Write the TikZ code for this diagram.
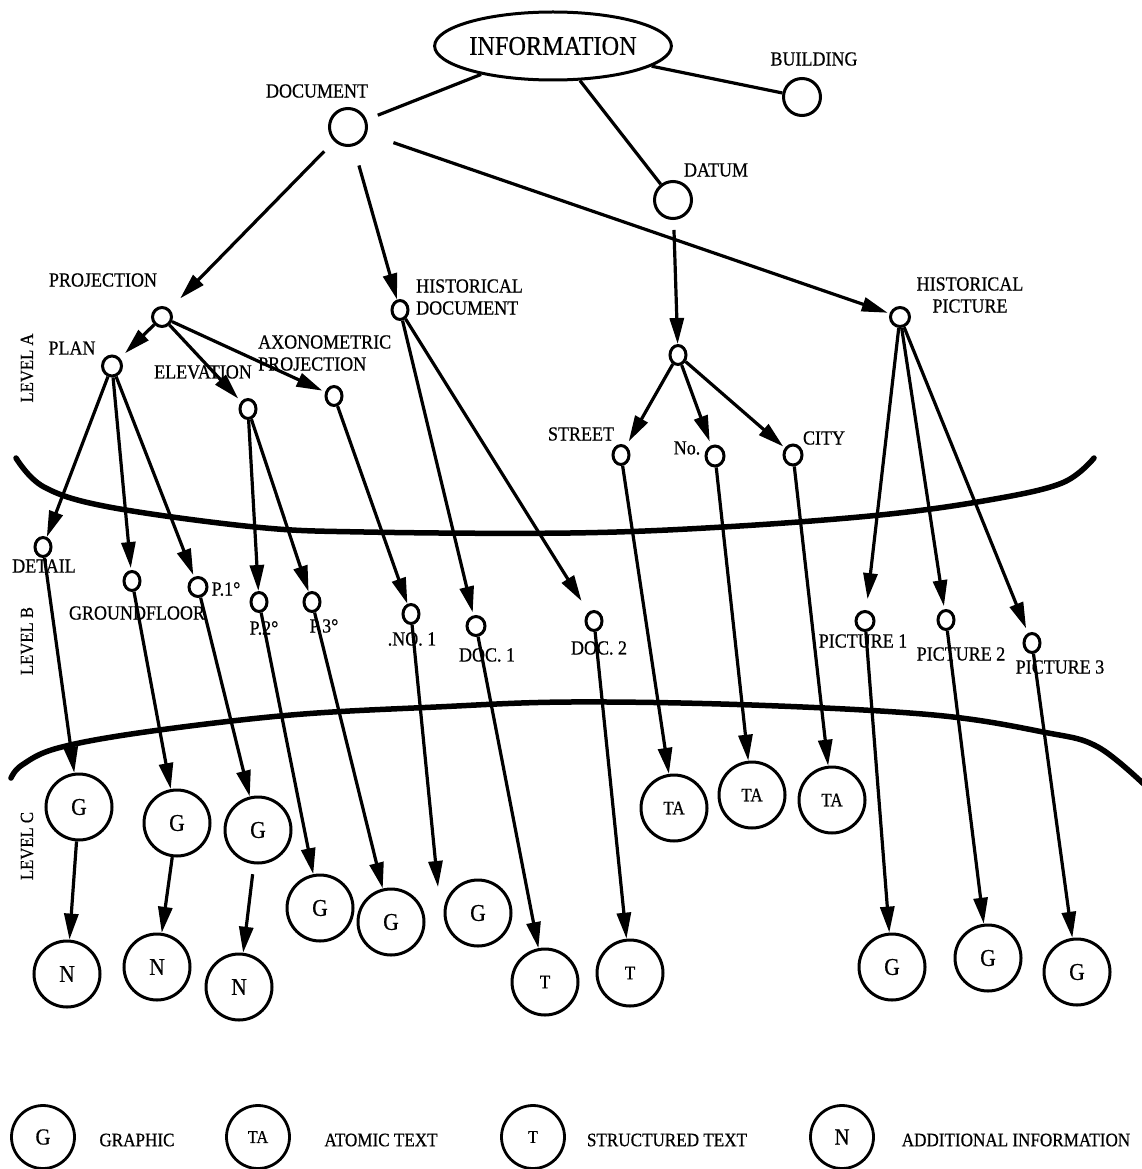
\documentclass[tikz,border=0pt]{standalone}
\usepackage{fontspec}
\setmainfont{Liberation Serif}[FakeStretch=0.9,FakeBold=0.6]
\usetikzlibrary{arrows.meta,shapes.geometric}
\begin{document}
\begin{tikzpicture}[x=1pt,y=-1pt,
  every node/.style={inner sep=0pt},
  lab/.style={font=\fontsize{20}{22}\selectfont},
  sm/.style={draw,ellipse,line width=3pt,minimum width=16pt,minimum height=19pt},
  mid/.style={draw,circle,line width=3pt,minimum size=37pt},
  big/.style={draw,circle,line width=3pt,minimum size=66pt,font=\fontsize{24}{26}\selectfont},
  bigs/.style={big,font=\fontsize{19}{21}\selectfont},
  leg/.style={draw,circle,line width=2.8pt,minimum size=63pt,font=\fontsize{23}{25}\selectfont},
  legs/.style={leg,font=\fontsize{18}{20}\selectfont},
  legtext/.style={font=\fontsize{19}{21}\selectfont},
  ln/.style={line width=3.2pt},
  arr/.style={line width=3.2pt,-{Triangle[length=26pt,width=14pt]}},
  lvl/.style={line width=5.5pt,line cap=round},
  lvlab/.style={rotate=90,font=\fontsize{18.5}{20}\selectfont}
]
\useasboundingbox (0,0) rectangle (1141,1169);

% level boundaries
\draw[lvl] plot[smooth,tension=0.6] coordinates {(16,458) (44,487) (109,507) (255,527) (364,532) (570,533) (723,527) (880,515) (989,500) (1062,483) (1094,458)};
\draw[lvl] plot[smooth,tension=0.6] coordinates {(11,778) (22,765) (58,748) (145,732) (291,715) (436,707) (570,702) (752,705) (934,715) (1043,732) (1098,747) (1150,790)};

\node[lvlab] (lva) at (27,368) {LEVEL A};
\node[lvlab] (lvb) at (27,641) {LEVEL B};
\node[lvlab] (lvc) at (27,846) {LEVEL C};

% top
\node[draw,ellipse,line width=3pt,minimum width=226pt,minimum height=68pt,font=\fontsize{27}{29}\selectfont] (info) at (553,46) {INFORMATION};
\node[mid] (build) at (802,97) {};
\node[lab] (buildl) at (814,59) {BUILDING};
\node[mid] (doc) at (348,127) {};
\node[lab] (docl) at (317,91) {DOCUMENT};
\node[mid] (datum) at (673,200) {};
\node[lab] (datuml) at (716,170) {DATUM};

% level A
\node[sm,minimum width=19pt,minimum height=19pt] (proj) at (162,317) {};
\node[lab] (projl) at (103,280) {PROJECTION};
\node[sm] (hd) at (400,310) {};
\node[lab,anchor=west,align=left] (hdl) at (416,297) {HISTORICAL\\DOCUMENT};
\node[sm,minimum width=19pt,minimum height=19pt] (hp) at (900,317) {};
\node[lab,align=center] (hpl) at (970,295) {HISTORICAL\\PICTURE};
\node[sm] (dch) at (678,355) {};
\node[sm,minimum width=19pt,minimum height=20pt] (plan) at (112,366) {};
\node[lab] (planl) at (72,348) {PLAN};
\node[sm] (elev) at (248,409) {};
\node[lab] (elevl) at (203,372) {ELEVATION};
\node[sm] (axo) at (334,396) {};
\node[lab,anchor=west,align=left] (axol) at (258,353) {AXONOMETRIC\\PROJECTION};
\node[sm] (street) at (621,455) {};
\node[lab] (streetl) at (581,434) {STREET};
\node[sm,minimum width=18pt,minimum height=20pt] (num) at (715,456) {};
\node[lab] (numl) at (687,448) {No.};
\node[sm,minimum width=18pt,minimum height=20pt] (city) at (793,455) {};
\node[lab] (cityl) at (824,438) {CITY};

% level B
\node[sm] (detail) at (43,547) {};
\node[lab] (detaill) at (44,566) {DETAIL};
\node[sm] (gf) at (132,581) {};
\node[lab] (gfl) at (137,613) {GROUNDFLOOR};
\node[sm,minimum width=18pt] (p1) at (198,587) {};
\node[lab] (p1l) at (226,589) {P.1°};
\node[sm] (p2) at (259,602) {};
\node[lab] (p2l) at (264,628) {P.2°};
\node[sm] (p3) at (312,602) {};
\node[lab] (p3l) at (324,626) {P.3°};
\node[sm] (no1) at (411,614) {};
\node[lab] (no1l) at (412,639) {.NO. 1};
\node[sm,minimum width=18pt] (doc1) at (476,626) {};
\node[lab] (doc1l) at (487,655) {DOC. 1};
\node[sm] (doc2) at (594,621) {};
\node[lab] (doc2l) at (599,648) {DOC. 2};
\node[sm,minimum width=18pt] (pic1) at (865,621) {};
\node[lab] (pic1l) at (863,641) {PICTURE 1};
\node[sm] (pic2) at (946,620) {};
\node[lab] (pic2l) at (961,654) {PICTURE 2};
\node[sm] (pic3) at (1032,643) {};
\node[lab] (pic3l) at (1060,667) {PICTURE 3};

% level C
\node[big] (g1) at (79,807) {G};
\node[big] (g2) at (177,823) {G};
\node[big] (g3) at (258,830) {G};
\node[big] (g4) at (320,908) {G};
\node[big] (g5) at (391,922) {G};
\node[big] (g6) at (478,913) {G};
\node[big] (n1) at (67,974) {N};
\node[big] (n2) at (157,967) {N};
\node[big] (n3) at (239,987) {N};
\node[bigs] (t1) at (545,982) {T};
\node[bigs] (t2) at (630,973) {T};
\node[bigs] (ta1) at (674,808) {TA};
\node[bigs] (ta2) at (752,795) {TA};
\node[bigs] (ta3) at (832,800) {TA};
\node[big] (g7) at (892,967) {G};
\node[big] (g8) at (988,958) {G};
\node[big] (g9) at (1077,972) {G};
\coordinate (no1tip) at (438,887);

% top connectors
\draw[ln,shorten >=12pt] (info) -- (doc);
\draw[ln] (info) -- (build);
\draw[ln] (info) -- (datum);
\draw[arr,shorten <=14pt,shorten >=15pt] (doc) -- (proj);
\draw[arr,shorten <=20pt] (doc) -- (hd);
\draw[arr,shorten <=28pt,shorten >=2pt] (doc) -- (hp);
\draw[arr,shorten <=10pt] (datum) -- (dch);

% level A connectors
\draw[arr,shorten >=7pt] (proj) -- (plan);
\draw[arr,shorten >=4pt] (proj) -- (elev);
\draw[arr,shorten >=3pt] (proj) -- (axo);
\draw[arr] (plan) -- (detail);
\draw[arr,shorten >=2pt] (plan) -- (gf);
\draw[arr,shorten >=2pt] (plan) -- (p1);
\draw[arr] (elev) -- (p2);
\draw[arr] (elev) -- (p3);
\draw[arr] (axo) -- (no1);
\draw[arr,shorten >=3pt] (hd) -- (doc1);
\draw[arr,shorten >=13pt] (hd) -- (doc2);
\draw[arr,shorten >=5pt] (dch) -- (street);
\draw[arr,shorten >=4pt] (dch) -- (num);
\draw[arr,shorten >=2pt] (dch) -- (city);
\draw[arr,shorten >=11pt] (hp) -- (pic1);
\draw[arr,shorten >=3pt] (hp) -- (pic2);
\draw[arr,shorten >=5pt] (hp) -- (pic3);

% level B connectors
\draw[arr] (detail) -- (g1);
\draw[arr] (gf) -- (g2);
\draw[arr] (p1) -- (g3);
\draw[arr] (p2) -- (g4);
\draw[arr] (p3) -- (g5);
\draw[arr] (no1) -- (no1tip);
\draw[arr] (doc1) -- (t1);
\draw[arr] (doc2) -- (t2);
\draw[arr] (street) -- (ta1);
\draw[arr] (num) -- (ta2);
\draw[arr] (city) -- (ta3);
\draw[arr] (pic1) -- (g7);
\draw[arr] (pic2) -- (g8);
\draw[arr] (pic3) -- (g9);

% level C connectors
\draw[arr] (g1) -- (n1);
\draw[arr] (g2) -- (n2);
\draw[arr,shorten <=10pt] (g3) -- (n3);

% legend
\node[leg] (legG) at (43,1137) {G};
\node[legtext] (legGl) at (137,1140) {GRAPHIC};
\node[legs] (legTA) at (258,1137) {TA};
\node[legtext] (legTAl) at (381,1140) {ATOMIC TEXT};
\node[legs] (legT) at (533,1137) {T};
\node[legtext] (legTl) at (667,1140) {STRUCTURED TEXT};
\node[leg] (legN) at (842,1137) {N};
\node[legtext] (legNl) at (1016,1140) {ADDITIONAL INFORMATION};
\end{tikzpicture}
\end{document}
